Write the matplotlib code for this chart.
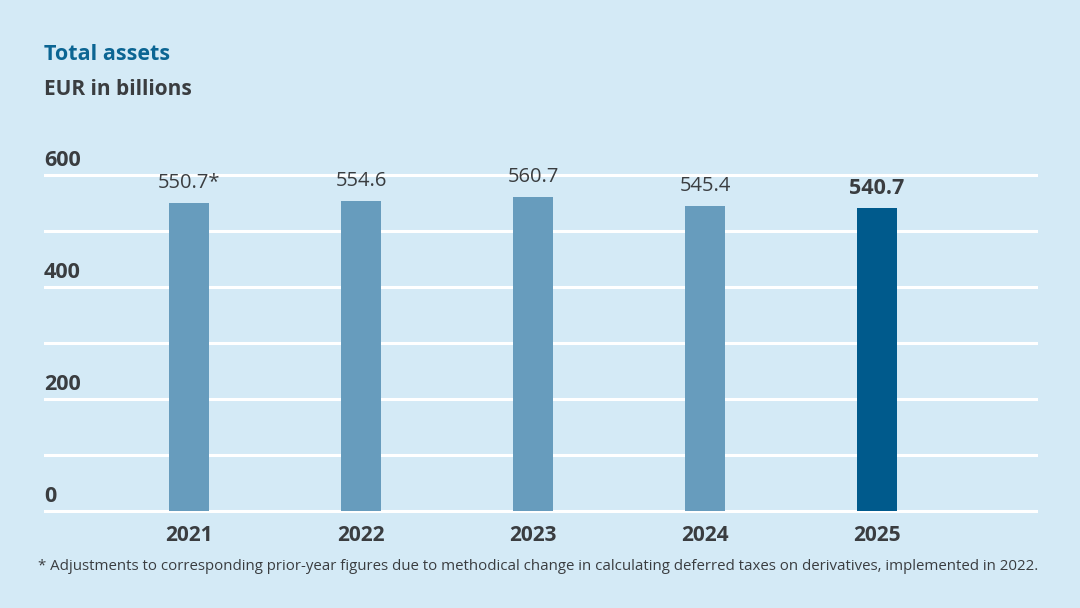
import matplotlib.pyplot as plt

# Data
years = ['2021', '2022', '2023', '2024', '2025']
values = [550.7, 554.6, 560.7, 545.4, 540.7]
labels = ['550.7*', '554.6', '560.7', '545.4', '540.7']
yticks = [0, 200, 400, 600]

bg = '#d4eaf6'
light_bar = '#679cbd'
dark_bar = '#005a8c'
text_dark = '#3a3d40'
title_blue = '#0b6593'

plt.rcParams['font.family'] = ['Open Sans', 'DejaVu Sans']

W, H = 1080, 608
fig = plt.figure(figsize=(W / 100, H / 100), dpi=100, facecolor=bg)

# axes placement in pixels
left, right = 44, 1038
top, bottom = 150, 515
ax = fig.add_axes([left / W, 1 - bottom / H, (right - left) / W, (bottom - top) / H])
ax.set_facecolor(bg)

x = list(range(len(years)))
colors = [light_bar] * 4 + [dark_bar]
ax.bar(x, values, width=40 / 172, color=colors, zorder=3)

# gridlines every 100
for g in range(0, 700, 100):
    ax.axhline(g, color='white', lw=2.2, zorder=1)

ax.set_xlim(-0.843, 4.936)
ax.set_ylim(-7, 645)
for s in ax.spines.values():
    s.set_visible(False)
ax.set_xticks([])
ax.set_yticks([])

# y tick labels sit above the gridlines
for t in yticks:
    ax.text(0, t + 8, str(t), transform=ax.get_yaxis_transform(), ha='left', va='bottom',
            fontsize=15.5, fontweight='bold', color=text_dark)

# value labels
for i, (v, lab) in enumerate(zip(values, labels)):
    bold = i == len(values) - 1
    ax.annotate(lab, (i, v), xytext=(0, 7), textcoords='offset points', ha='center', va='bottom',
                fontsize=15.5 if bold else 14.5, fontweight='bold' if bold else 'normal',
                color=text_dark)

# year labels
for i, yr in enumerate(years):
    ax.annotate(yr, (i, 0), xytext=(0, -10), textcoords='offset points', ha='center', va='top',
                fontsize=15, fontweight='bold', color=text_dark)

fig.text(44 / W, 1 - 60 / H, 'Total assets', fontsize=15.5, fontweight='bold', color=title_blue,
         ha='left', va='baseline')
fig.text(44 / W, 1 - 95 / H, 'EUR in billions', fontsize=15, fontweight='bold', color=text_dark,
         ha='left', va='baseline')
fig.text(38 / W, 1 - 570 / H,
         '* Adjustments to corresponding prior-year figures due to methodical change in calculating '
         'deferred taxes on derivatives, implemented in 2022.',
         fontsize=10.8, color=text_dark, ha='left', va='baseline')

fig.savefig('out.png', dpi=100, facecolor=bg)
